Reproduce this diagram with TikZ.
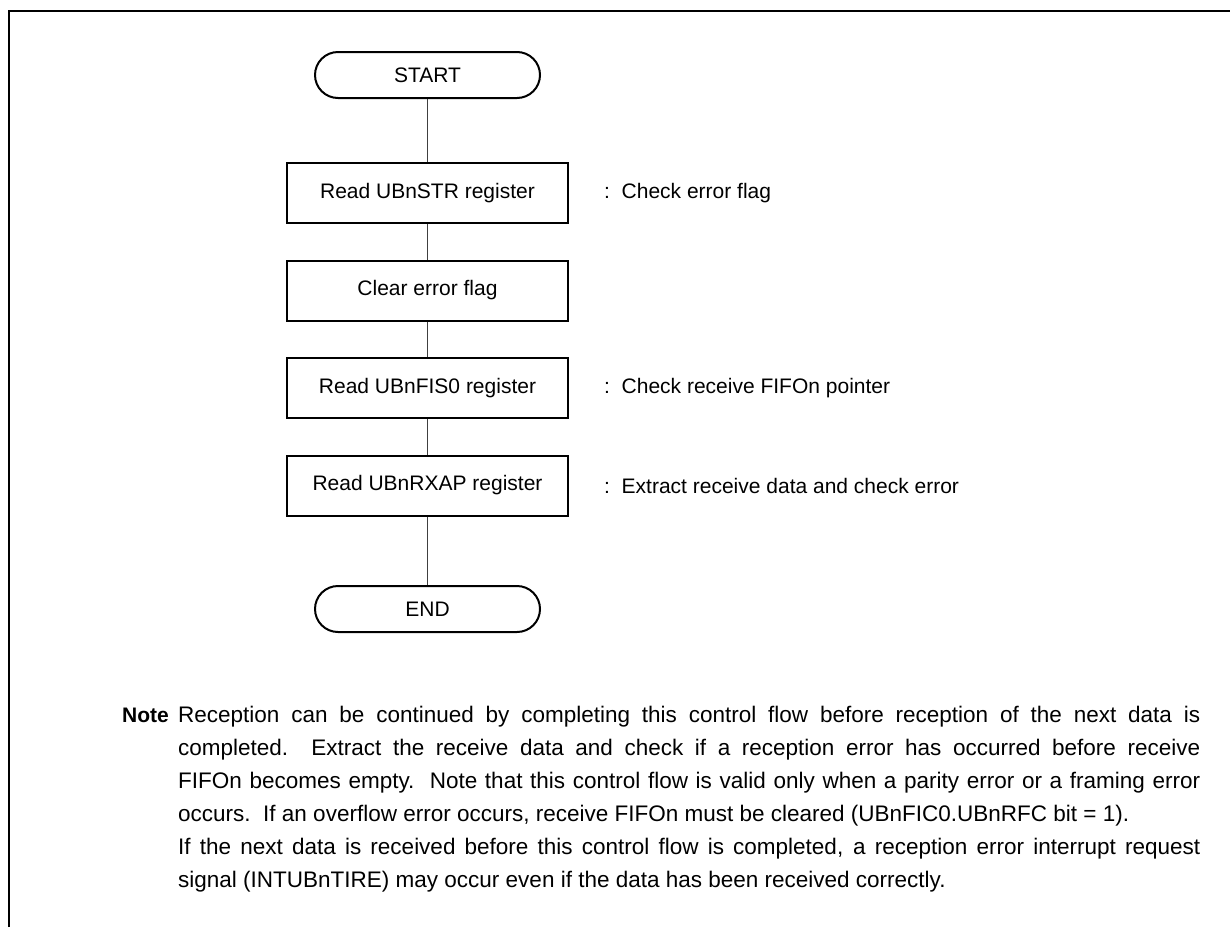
\documentclass[tikz,border=0pt]{standalone}
\usepackage{fontspec}
\setmainfont{Liberation Sans}
\usetikzlibrary{positioning}

\begin{document}
\begin{tikzpicture}[x=1pt, y=-1pt,
  term/.style={draw, line width=2pt, rounded corners=23pt, minimum width=225pt,
               minimum height=46pt, font=\fontsize{21}{25}\selectfont},
  proc/.style={draw, line width=2pt, minimum width=281pt, minimum height=60pt,
               font=\fontsize{21}{25}\selectfont},
  remark/.style={inner sep=0pt, font=\fontsize{21}{25}\selectfont},
  conn/.style={line width=1pt, black!75},
  notebody/.style={inner sep=0pt, text width=1022pt, align=justify,
                   font=\fontsize{22.5}{33}\selectfont},
]
  \useasboundingbox (0,0) rectangle (1230,927);
  % open frame
  \draw[line width=2.5pt] (9,927) -- (9,11) -- (1230,11);

  \node[term] (start) at (427.5,75) {START};
  \node[proc, below=63pt of start] (rdstr) {Read UBnSTR register};
  \node[proc, below=35.5pt of rdstr] (clrflg) {Clear error flag};
  \node[proc, below=35.5pt of clrflg] (rdfis) {Read UBnFIS0 register};
  \node[proc, below=35.5pt of rdfis] (rdrxap) {Read UBnRXAP register};
  \node[term, below=68.5pt of rdrxap] (stop) {END};

  \node[remark, right=35pt of rdstr] (rm1) {:~~Check error flag};
  \node[remark, right=35pt of rdfis] (rm3) {:~~Check receive FIFOn pointer};
  \node[remark, right=35pt of rdrxap] (rm4) {:~~Extract receive data and check error};

  \draw[conn] (start) -- (rdstr);
  \draw[conn] (rdstr) -- (clrflg);
  \draw[conn] (clrflg) -- (rdfis);
  \draw[conn] (rdfis) -- (rdrxap);
  \draw[conn] (rdrxap) -- (stop);

  % note below the flow
  \node[anchor=base west, inner sep=0pt, font=\fontsize{21}{33}\selectfont\bfseries]
    (notelbl) at (122,722) {Note};
  \node[notebody, anchor=base west] (notetext) at (178,722) {%
    Reception can be continued by completing this control flow before reception of the next data is\linebreak
    completed.\ \ Extract the receive data and check if a reception error has occurred before receive\linebreak
    FIFOn becomes empty.\ \ Note that this control flow is valid only when a parity error or a framing error\linebreak
    occurs.\ \ If an overflow error occurs, receive FIFOn must be cleared (UBnFIC0.UBnRFC bit = 1).\par
    If the next data is received before this control flow is completed, a reception error interrupt request\linebreak
    signal (INTUBnTIRE) may occur even if the data has been received correctly.};
\end{tikzpicture}
\end{document}
